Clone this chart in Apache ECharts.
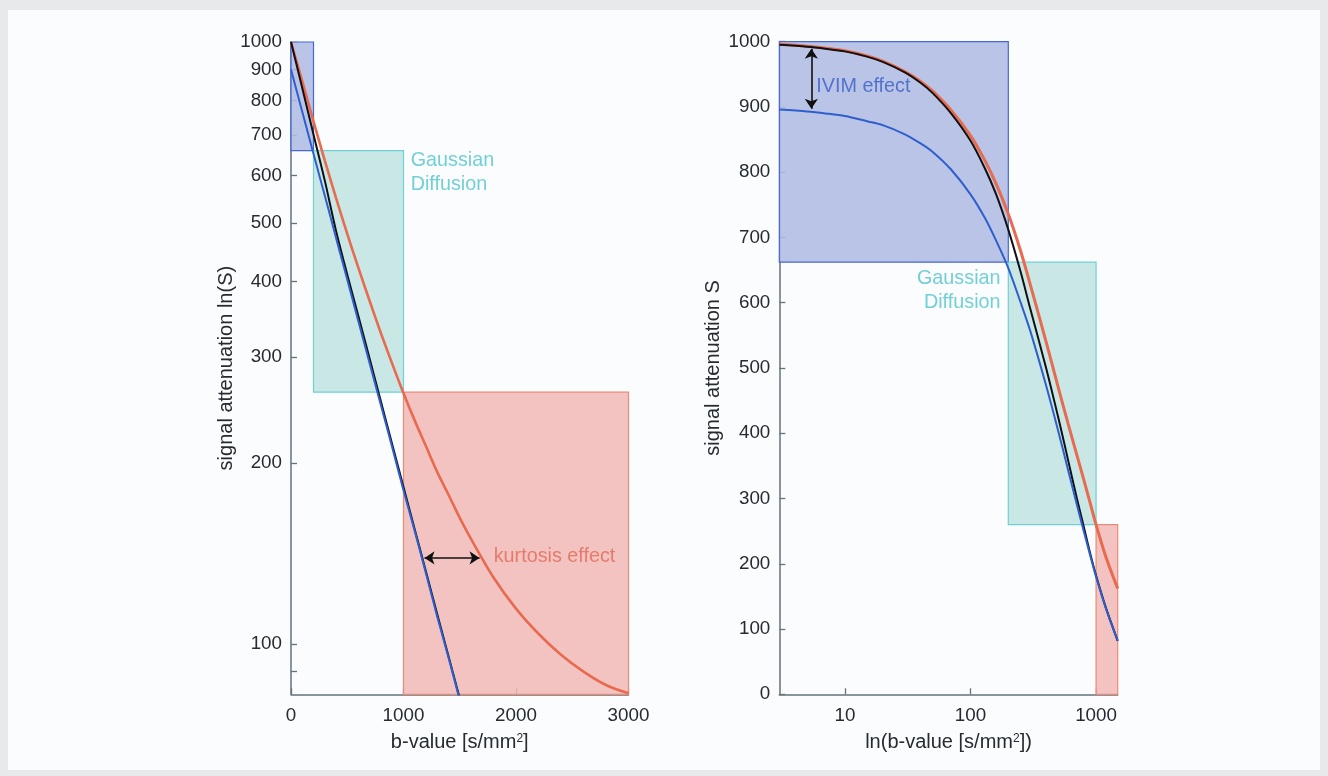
<!DOCTYPE html>
<html><head><meta charset="utf-8">
<script src="https://cdn.jsdelivr.net/npm/echarts@6/dist/echarts.min.js"></script>
<style>
html,body{margin:0;padding:0;width:1328px;height:776px;overflow:hidden;background:#e8e9eb;}
#frame{position:absolute;left:8px;top:10px;width:1312px;height:760px;background:#fbfcfe;}
#chart{position:absolute;left:0;top:0;width:1328px;height:776px;}
</style></head><body><div id="frame"></div><div id="chart"></div>
<script>
// ---------- DATA ----------
// Left panel: b-value (linear) vs signal (log)
const leftB      = [0, 100, 200, 300, 400, 500, 600, 700, 800, 900, 1000, 1100, 1200, 1300, 1400, 1500, 1600, 1800, 2000, 2200, 2400, 2600, 2800, 3000];
const leftOrange = [1000, 861, 738, 636, 551, 480, 421, 371, 328, 292, 261, 235, 213, 193, 177, 162, 149.5, 129, 114.5, 104, 96, 90, 85.5, 82.8];
const leftBlack  = [1000, 839, 702, 589, 486, 411, 350, 297.5, 252.5, 214.5, 182.3, 155, 131.8, 112.1, 95.4, 81.2, null, null, null, null, null, null, null, null];
const leftBlue   = [900, 766, 652, 556, 473, 403, 343, 292, 249, 212, 180, 154, 131, 111, 95, 80.7, null, null, null, null, null, null, null, null];
// boxes: [bStart, bEnd, sLow, sHigh]
const leftBoxes  = [[0, 200, 660, 1000], [200, 1000, 262, 660], [1000, 3000, 82.5, 262]];
const leftYTicks = [90, 100, 200, 300, 400, 500, 600, 700, 800, 900, 1000];
const leftYLabels = [100, 200, 300, 400, 500, 600, 700, 800, 900, 1000];
const kurtosisArrow = [[1187, 139], [1676, 139]];

// Right panel: b-value (log) vs signal (linear)
const rightB      = [3, 5, 7, 10, 15, 20, 30, 40, 50, 70, 100, 130, 160, 200, 250, 300, 400, 500, 600, 700, 800, 900, 1000, 1200, 1487];
const rightOrange = [996, 993, 990, 986, 978, 970, 954, 939, 924, 895, 856, 818, 782, 736, 680, 627, 540, 470, 414, 368, 328, 292, 260, 210, 162];
const rightBlack  = [995, 992, 989, 985, 977, 969, 953, 937, 921, 890, 848, 806, 766, 712, 648, 590, 500, 424, 358, 302, 256, 215, 182, 132, 82];
const rightBlue   = [896, 893, 890, 886, 878, 872, 858, 844, 831, 804, 766, 730, 695, 653, 601, 556, 473, 403, 343, 292, 249, 212, 180, 131, 82];
const rightBoxes  = [[3, 200, 662, 1000], [200, 1000, 260, 662], [1000, 1487, 0, 260]];
const rightXTicks = [10, 100, 1000];
const ivimArrow   = [[5.4, 989], [5.4, 897]];

// annotations (anchor in data units)
const leftNotes  = [{at: [1059, 608], text: 'Gaussian\nDiffusion', kind: 'teal'}, {at: [1797, 139.5], text: 'kurtosis effect', kind: 'red'}];
const rightNotes = [{at: [5.85, 931], text: 'IVIM effect', kind: 'blue', side: 'right'}, {at: [175, 619], text: 'Gaussian\nDiffusion', kind: 'teal', side: 'left'}];

// ---------- STYLE ----------
const FONT = '"Liberation Sans", Arial, Helvetica, sans-serif';
const AX = '#66727b', TXT = '#262b31';
const boxStyles = [
  {fill: 'rgba(176,188,226,0.88)', stroke: '#4668d6'},
  {fill: 'rgba(190,227,225,0.85)', stroke: '#6fd0d8'},
  {fill: 'rgba(240,184,182,0.85)', stroke: '#ec8a78'}
];
const noteColors = {teal: '#4fc4cc', red: '#e36a56', blue: '#3a5cc8'};
const C_OR = '#e86a4f', C_BK = '#111111', C_BL = '#2f5fcd';

function pairs(xs, ys) { return xs.map((x, i) => [x, ys[i]]); }
function plain(v) { return String(Math.round(v)); }

function boxSeries(boxes, xi, yi) {
  return {
    type: 'custom', xAxisIndex: xi, yAxisIndex: yi, z: 1, silent: true,
    encode: {x: [0, 1], y: [2, 3]},
    data: boxes,
    renderItem: function (params, api) {
      const p0 = api.coord([api.value(0), api.value(3)]);
      const p1 = api.coord([api.value(1), api.value(2)]);
      const st = boxStyles[params.dataIndex];
      return {type: 'rect', shape: {x: p0[0], y: p0[1], width: p1[0] - p0[0], height: p1[1] - p0[1]},
        style: {fill: st.fill, stroke: st.stroke, lineWidth: 1.2}};
    }
  };
}
function lineSeries(xs, ys, color, width, xi, yi, z) {
  return {type: 'line', xAxisIndex: xi, yAxisIndex: yi, data: pairs(xs, ys), showSymbol: false, symbol: 'none',
    smooth: 0.3, connectNulls: false, lineStyle: {color: color, width: width}, z: z, silent: true};
}
function arrowSeries(coords, xi, yi) {
  return {type: 'lines', coordinateSystem: 'cartesian2d', xAxisIndex: xi, yAxisIndex: yi, polyline: false,
    symbol: ['arrow', 'arrow'], symbolSize: 10, z: 6, silent: true,
    lineStyle: {color: '#111', width: 1.6, opacity: 1, curveness: 0},
    data: [{coords: coords}]};
}
function noteSeries(notes, xi, yi) {
  return notes.map(n => ({
    type: 'scatter', xAxisIndex: xi, yAxisIndex: yi, symbolSize: 1, itemStyle: {color: 'rgba(0,0,0,0)'}, z: 7, silent: true,
    data: [n.at],
    label: {show: true, position: n.side || 'right', distance: 0, formatter: n.text, color: noteColors[n.kind],
      fontSize: 19.8, lineHeight: 24, fontFamily: FONT, align: n.side === 'left' ? 'right' : 'left'}
  }));
}
const axisCommon = {
  axisLine: {show: true, lineStyle: {color: AX, width: 1.5}},
  axisTick: {show: true, inside: true, length: 6, lineStyle: {color: AX, width: 1.3}},
  splitLine: {show: false},
  nameTextStyle: {fontSize: 20, color: TXT, fontFamily: FONT,
    rich: {sup: {fontSize: 12, color: TXT, fontFamily: FONT, verticalAlign: 'top', padding: [0, 0, 9, 0]}}}
};
function lab(extra) { return Object.assign({color: TXT, fontSize: 18.8, fontFamily: FONT, formatter: plain}, extra || {}); }

const chart = echarts.init(document.getElementById('chart'), null, {renderer: 'canvas'});
chart.setOption({
  backgroundColor: 'transparent',
  animation: false,
  textStyle: {fontFamily: FONT},
  grid: [
    {left: 291, top: 42, width: 337.5, height: 652.3},
    {left: 779.3, top: 41.6, width: 338.4, height: 652.7}
  ],
  xAxis: [
    Object.assign({}, axisCommon, {gridIndex: 0, type: 'value', min: 0, max: 3000, interval: 1000,
      name: 'b-value [s/mm{sup|2}]', nameLocation: 'middle', nameGap: 38,
      axisLabel: lab({margin: 12})}),
    Object.assign({}, axisCommon, {gridIndex: 1, type: 'log', logBase: 10, min: 3, max: 1487,
      name: 'ln(b-value [s/mm{sup|2}])', nameLocation: 'middle', nameGap: 38,
      axisTick: Object.assign({}, axisCommon.axisTick, {customValues: rightXTicks}),
      axisLabel: lab({margin: 12, customValues: rightXTicks})})
  ],
  yAxis: [
    Object.assign({}, axisCommon, {gridIndex: 0, type: 'log', logBase: 10, min: 82.5, max: 1000,
      name: 'signal attenuation ln(S)', nameLocation: 'middle', nameGap: 53, nameRotate: 90,
      axisTick: Object.assign({}, axisCommon.axisTick, {customValues: leftYTicks}),
      axisLabel: lab({margin: 9, customValues: leftYLabels})}),
    Object.assign({}, axisCommon, {gridIndex: 1, type: 'value', min: 0, max: 1000, interval: 100,
      name: 'signal attenuation S', nameLocation: 'middle', nameGap: 56, nameRotate: 90,
      axisLabel: lab({margin: 9})})
  ],
  series: [
    boxSeries(leftBoxes, 0, 0),
    lineSeries(leftB, leftOrange, C_OR, 2.6, 0, 0, 3),
    lineSeries(leftB, leftBlack, C_BK, 2, 0, 0, 4),
    lineSeries(leftB, leftBlue, C_BL, 2, 0, 0, 5),
    arrowSeries(kurtosisArrow, 0, 0),
    boxSeries(rightBoxes, 1, 1),
    lineSeries(rightB, rightOrange, C_OR, 3, 1, 1, 3),
    lineSeries(rightB, rightBlack, C_BK, 2, 1, 1, 4),
    lineSeries(rightB, rightBlue, C_BL, 2, 1, 1, 5),
    arrowSeries(ivimArrow, 1, 1)
  ].concat(noteSeries(leftNotes, 0, 0), noteSeries(rightNotes, 1, 1))
});
</script></body></html>
